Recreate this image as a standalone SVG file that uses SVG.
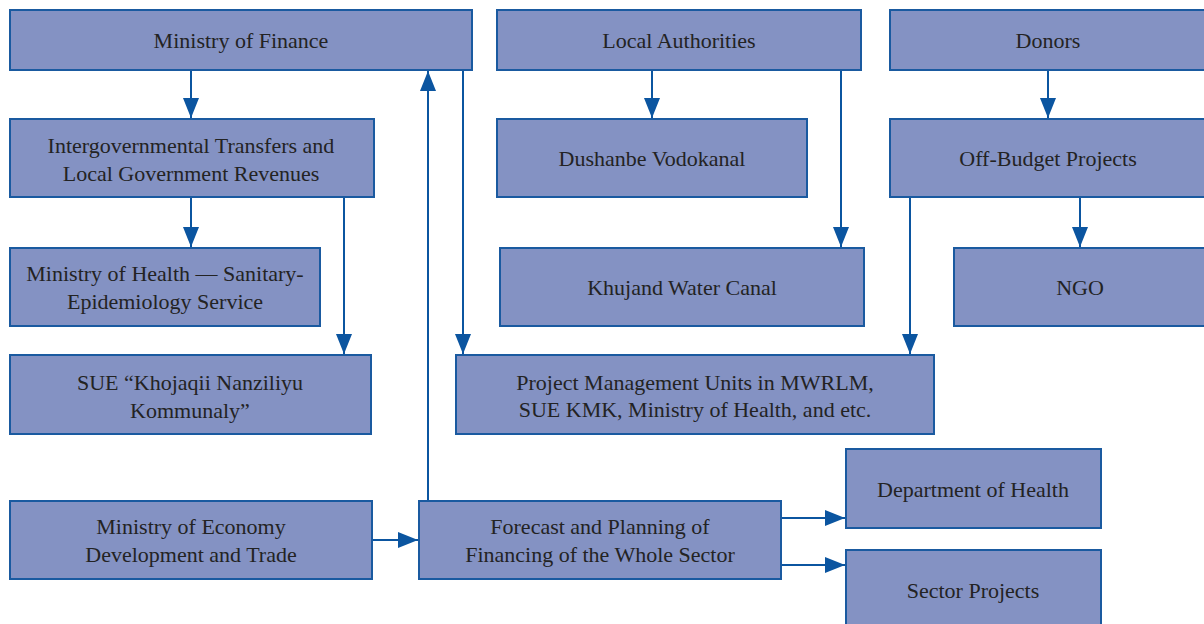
<svg xmlns="http://www.w3.org/2000/svg" width="1204" height="624" viewBox="0 0 1204 624">
  <style>
    .box { fill: #8492c3; stroke: #1a5aa0; stroke-width: 2; }
    .lbl { font-family: "Liberation Serif", "DejaVu Serif", serif; font-size: 22px; fill: #232323; text-anchor: middle; }
    .wire { fill: none; stroke: #0b55a0; stroke-width: 2; }
  </style>
  <defs>
    <marker id="arrow" viewBox="0 0 20 16" refX="20" refY="8" markerWidth="20" markerHeight="16" markerUnits="userSpaceOnUse" orient="auto">
      <path d="M0,0 L20,8 L0,16 z" fill="#0b55a0"/>
    </marker>
  </defs>
  <rect width="1204" height="624" fill="#ffffff"/>

  <!-- connectors -->
  <g id="connectors" class="wire">
    <path d="M191,70 V118" marker-end="url(#arrow)"/>
    <path d="M191,197 V247" marker-end="url(#arrow)"/>
    <path d="M344,197 V354" marker-end="url(#arrow)"/>
    <path d="M463,70 V354" marker-end="url(#arrow)"/>
    <path d="M428,500 V71" marker-end="url(#arrow)"/>
    <path d="M652,70 V118" marker-end="url(#arrow)"/>
    <path d="M841,70 V247" marker-end="url(#arrow)"/>
    <path d="M1048,70 V118" marker-end="url(#arrow)"/>
    <path d="M1080,197 V247" marker-end="url(#arrow)"/>
    <path d="M910,197 V354" marker-end="url(#arrow)"/>
    <path d="M372,540 H418" marker-end="url(#arrow)"/>
    <path d="M781,518 H845" marker-end="url(#arrow)"/>
    <path d="M781,565 H845" marker-end="url(#arrow)"/>
  </g>

  <g id="ministry-finance">
    <rect class="box" x="10" y="10" width="462" height="60"/>
    <text class="lbl" x="241" y="48">Ministry of Finance</text>
  </g>
  <g id="local-authorities">
    <rect class="box" x="497" y="10" width="364" height="60"/>
    <text class="lbl" x="679" y="48">Local Authorities</text>
  </g>
  <g id="donors">
    <rect class="box" x="890" y="10" width="320" height="60"/>
    <text class="lbl" x="1048" y="48">Donors</text>
  </g>
  <g id="intergovernmental-transfers">
    <rect class="box" x="10" y="119" width="364" height="78"/>
    <text class="lbl" x="191" y="153">Intergovernmental Transfers and</text>
    <text class="lbl" x="191" y="181">Local Government Revenues</text>
  </g>
  <g id="dushanbe-vodokanal">
    <rect class="box" x="497" y="119" width="310" height="78"/>
    <text class="lbl" x="652" y="166">Dushanbe Vodokanal</text>
  </g>
  <g id="off-budget-projects">
    <rect class="box" x="890" y="119" width="320" height="78"/>
    <text class="lbl" x="1048" y="166">Off-Budget Projects</text>
  </g>
  <g id="ministry-health-ses">
    <rect class="box" x="10" y="248" width="310" height="78"/>
    <text class="lbl" x="165" y="281">Ministry of Health — Sanitary-</text>
    <text class="lbl" x="165" y="309">Epidemiology Service</text>
  </g>
  <g id="khujand-water-canal">
    <rect class="box" x="500" y="248" width="364" height="78"/>
    <text class="lbl" x="682" y="295">Khujand Water Canal</text>
  </g>
  <g id="ngo">
    <rect class="box" x="954" y="248" width="256" height="78"/>
    <text class="lbl" x="1080" y="295">NGO</text>
  </g>
  <g id="sue-khnk">
    <rect class="box" x="10" y="355" width="361" height="79"/>
    <text class="lbl" x="190" y="390">SUE “Khojaqii Nanziliyu</text>
    <text class="lbl" x="190" y="418">Kommunaly”</text>
  </g>
  <g id="project-management-units">
    <rect class="box" x="456" y="355" width="478" height="79"/>
    <text class="lbl" x="695" y="390">Project Management Units in MWRLM,</text>
    <text class="lbl" x="695" y="417">SUE KMK, Ministry of Health, and etc.</text>
  </g>
  <g id="department-health">
    <rect class="box" x="846" y="449" width="255" height="79"/>
    <text class="lbl" x="973" y="497">Department of Health</text>
  </g>
  <g id="ministry-economy">
    <rect class="box" x="10" y="501" width="362" height="78"/>
    <text class="lbl" x="191" y="534">Ministry of Economy</text>
    <text class="lbl" x="191" y="562">Development and Trade</text>
  </g>
  <g id="forecast-planning">
    <rect class="box" x="419" y="501" width="362" height="78"/>
    <text class="lbl" x="600" y="534">Forecast and Planning of</text>
    <text class="lbl" x="600" y="562">Financing of the Whole Sector</text>
  </g>
  <g id="sector-projects">
    <rect class="box" x="846" y="550" width="255" height="80"/>
    <text class="lbl" x="973" y="598">Sector Projects</text>
  </g>
</svg>
